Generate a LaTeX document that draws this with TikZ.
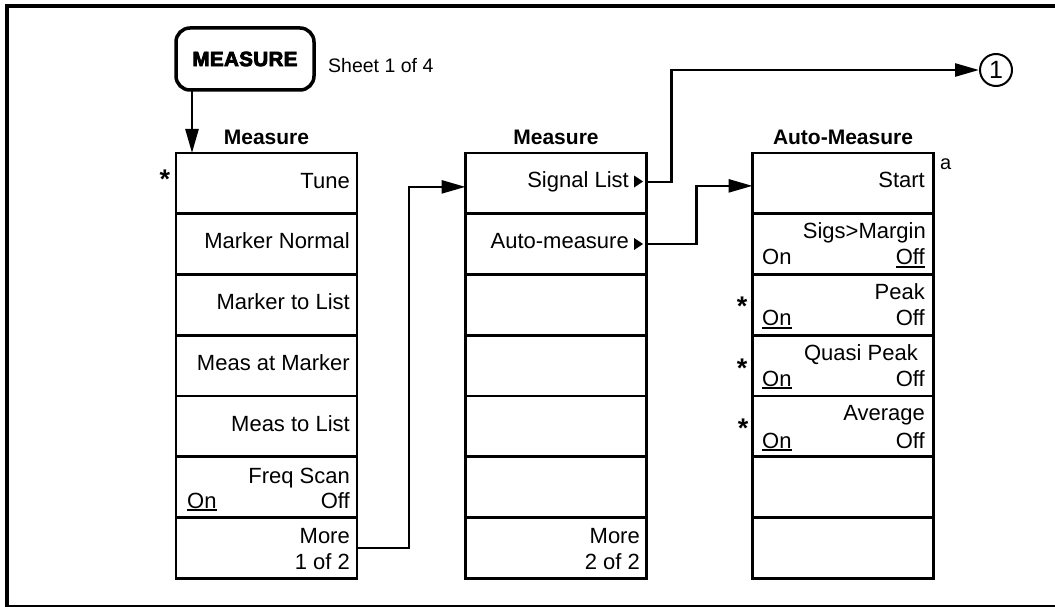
\documentclass[tikz,border=0pt]{standalone}
\usepackage{fontspec}
\setmainfont{Liberation Sans}
\newfontfamily\keyfont{Liberation Sans Bold}[FakeBold=4,LetterSpace=2]
\usetikzlibrary{arrows.meta}
\newcommand\myul[1]{\setbox0\hbox{#1}\rlap{\rule[-3pt]{\wd0}{1.8pt}}\box0}
\begin{document}
\begin{tikzpicture}[x=1pt,y=-1pt,
  row/.style={draw, line width=2.6pt, minimum width=181pt, minimum height=60.75pt, inner sep=0pt, outer sep=0pt},
  lbl/.style={font=\fontsize{22}{24}\selectfont, inner sep=0pt},
  star/.style={font=\fontsize{27}{28}\selectfont\bfseries, inner sep=0pt, anchor=base},
  ttl/.style={font=\fontsize{21}{24}\selectfont\bfseries, inner sep=0pt, anchor=base},
  conn/.style={line width=2.6pt},
  arr/.style={conn, -{Triangle[length=24pt,width=13pt]}},
  tri/.style={fill=black},
]
\useasboundingbox (0,0) rectangle (1055,607);
% outer frame (right side outside the picture)
\draw[line width=4pt] (1080,6) -- (7,6) -- (7,606.5) -- (1080,606.5);

% hard key
\node[draw, line width=3.5pt, rounded corners=14pt, minimum width=138pt, minimum height=62pt,
      inner sep=0pt, outer sep=0pt, font=\keyfont\fontsize{20.5}{22}\selectfont] (key) at (245,59) {MEASURE};
\node[lbl, anchor=base west, font=\fontsize{19.5}{22}\selectfont] (sheet) at (328,73) {Sheet 1 of 4};

% column titles
\node[ttl] (tL) at (266.5,145) {Measure};
\node[ttl] (tM) at (556,145) {Measure};
\node[ttl] (tR) at (843,145) {Auto-Measure};

% rows
\foreach \i in {1,...,7}{
  \node[row] (L\i) at (266.5,{153+60.75*\i-30.375}) {};
  \node[row] (M\i) at (556,{153+60.75*\i-30.375}) {};
  \node[row] (R\i) at (843,{153+60.75*\i-30.375}) {};
}

% left column labels
\node[lbl, anchor=base east] at (350,188) {Tune};
\node[lbl, anchor=base east] at (350,248.75) {Marker Normal};
\node[lbl, anchor=base east] at (350,309.5) {Marker to List};
\node[lbl, anchor=base east] at (350,370.25) {Meas at Marker};
\node[lbl, anchor=base east] at (350,431) {Meas to List};
\node[lbl, anchor=base east] at (350,483) {Freq Scan};
\node[lbl, anchor=base west] at (187,508) {\myul{On}};
\node[lbl, anchor=base east] at (350,508) {Off};
\node[lbl, anchor=base east] at (350,543) {More};
\node[lbl, anchor=base east] at (350,569) {1 of 2};
\node[star] at (165,188) {*};

% middle column labels
\node[lbl, anchor=base east] at (629,187) {Signal List};
\node[lbl, anchor=base east] at (629,248.75) {Auto-measure};
\fill[tri] (634,175.5) -- (634,187.5) -- (643,181.5) -- cycle;
\fill[tri] (634,238) -- (634,250) -- (643,244) -- cycle;
\node[lbl, anchor=base east] at (640,543) {More};
\node[lbl, anchor=base east] at (640,569) {2 of 2};

% right column labels
\node[lbl, anchor=base east] at (925,187) {Start};
\node[lbl, anchor=base west, font=\fontsize{20}{22}\selectfont] at (940,169) {a};
\node[lbl, anchor=base east] at (926,238.75) {Sigs>Margin};
\node[lbl, anchor=base west] at (762,264.75) {On};
\node[lbl, anchor=base east] at (925,264.75) {\myul{Off}};
\node[lbl, anchor=base east] at (925,299) {Peak};
\node[lbl, anchor=base west] at (762,325.5) {\myul{On}};
\node[lbl, anchor=base east] at (925,325.5) {Off};
\node[lbl, anchor=base east] at (918,360) {Quasi Peak};
\node[lbl, anchor=base west] at (762,386.25) {\myul{On}};
\node[lbl, anchor=base east] at (925,386.25) {Off};
\node[lbl, anchor=base east] at (925,420.5) {Average};
\node[lbl, anchor=base west] at (762,448) {\myul{On}};
\node[lbl, anchor=base east] at (925,448) {Off};
\node[star] at (742,315) {*};
\node[star] at (742,377) {*};
\node[star] at (743,437) {*};

% off-page connector
\node[draw, circle, line width=2pt, minimum size=32pt, inner sep=0pt, font=\fontsize{25}{26}\selectfont] (c1) at (996,70) {1};

% connectors
\draw[arr] ([xshift=16pt]key.south west) -- ([xshift=16pt]L1.north west);
\draw[arr] (L7.east) -- ++(52,0) |- ([yshift=-3.5pt]M1.west);
\draw[arr] ([yshift=1.5pt]M1.east) -- ++(25,0) |- (c1.west);
\draw[arr] (M2.east) -- ++(50,0) |- ([yshift=-2.5pt]R1.west);
\end{tikzpicture}
\end{document}
